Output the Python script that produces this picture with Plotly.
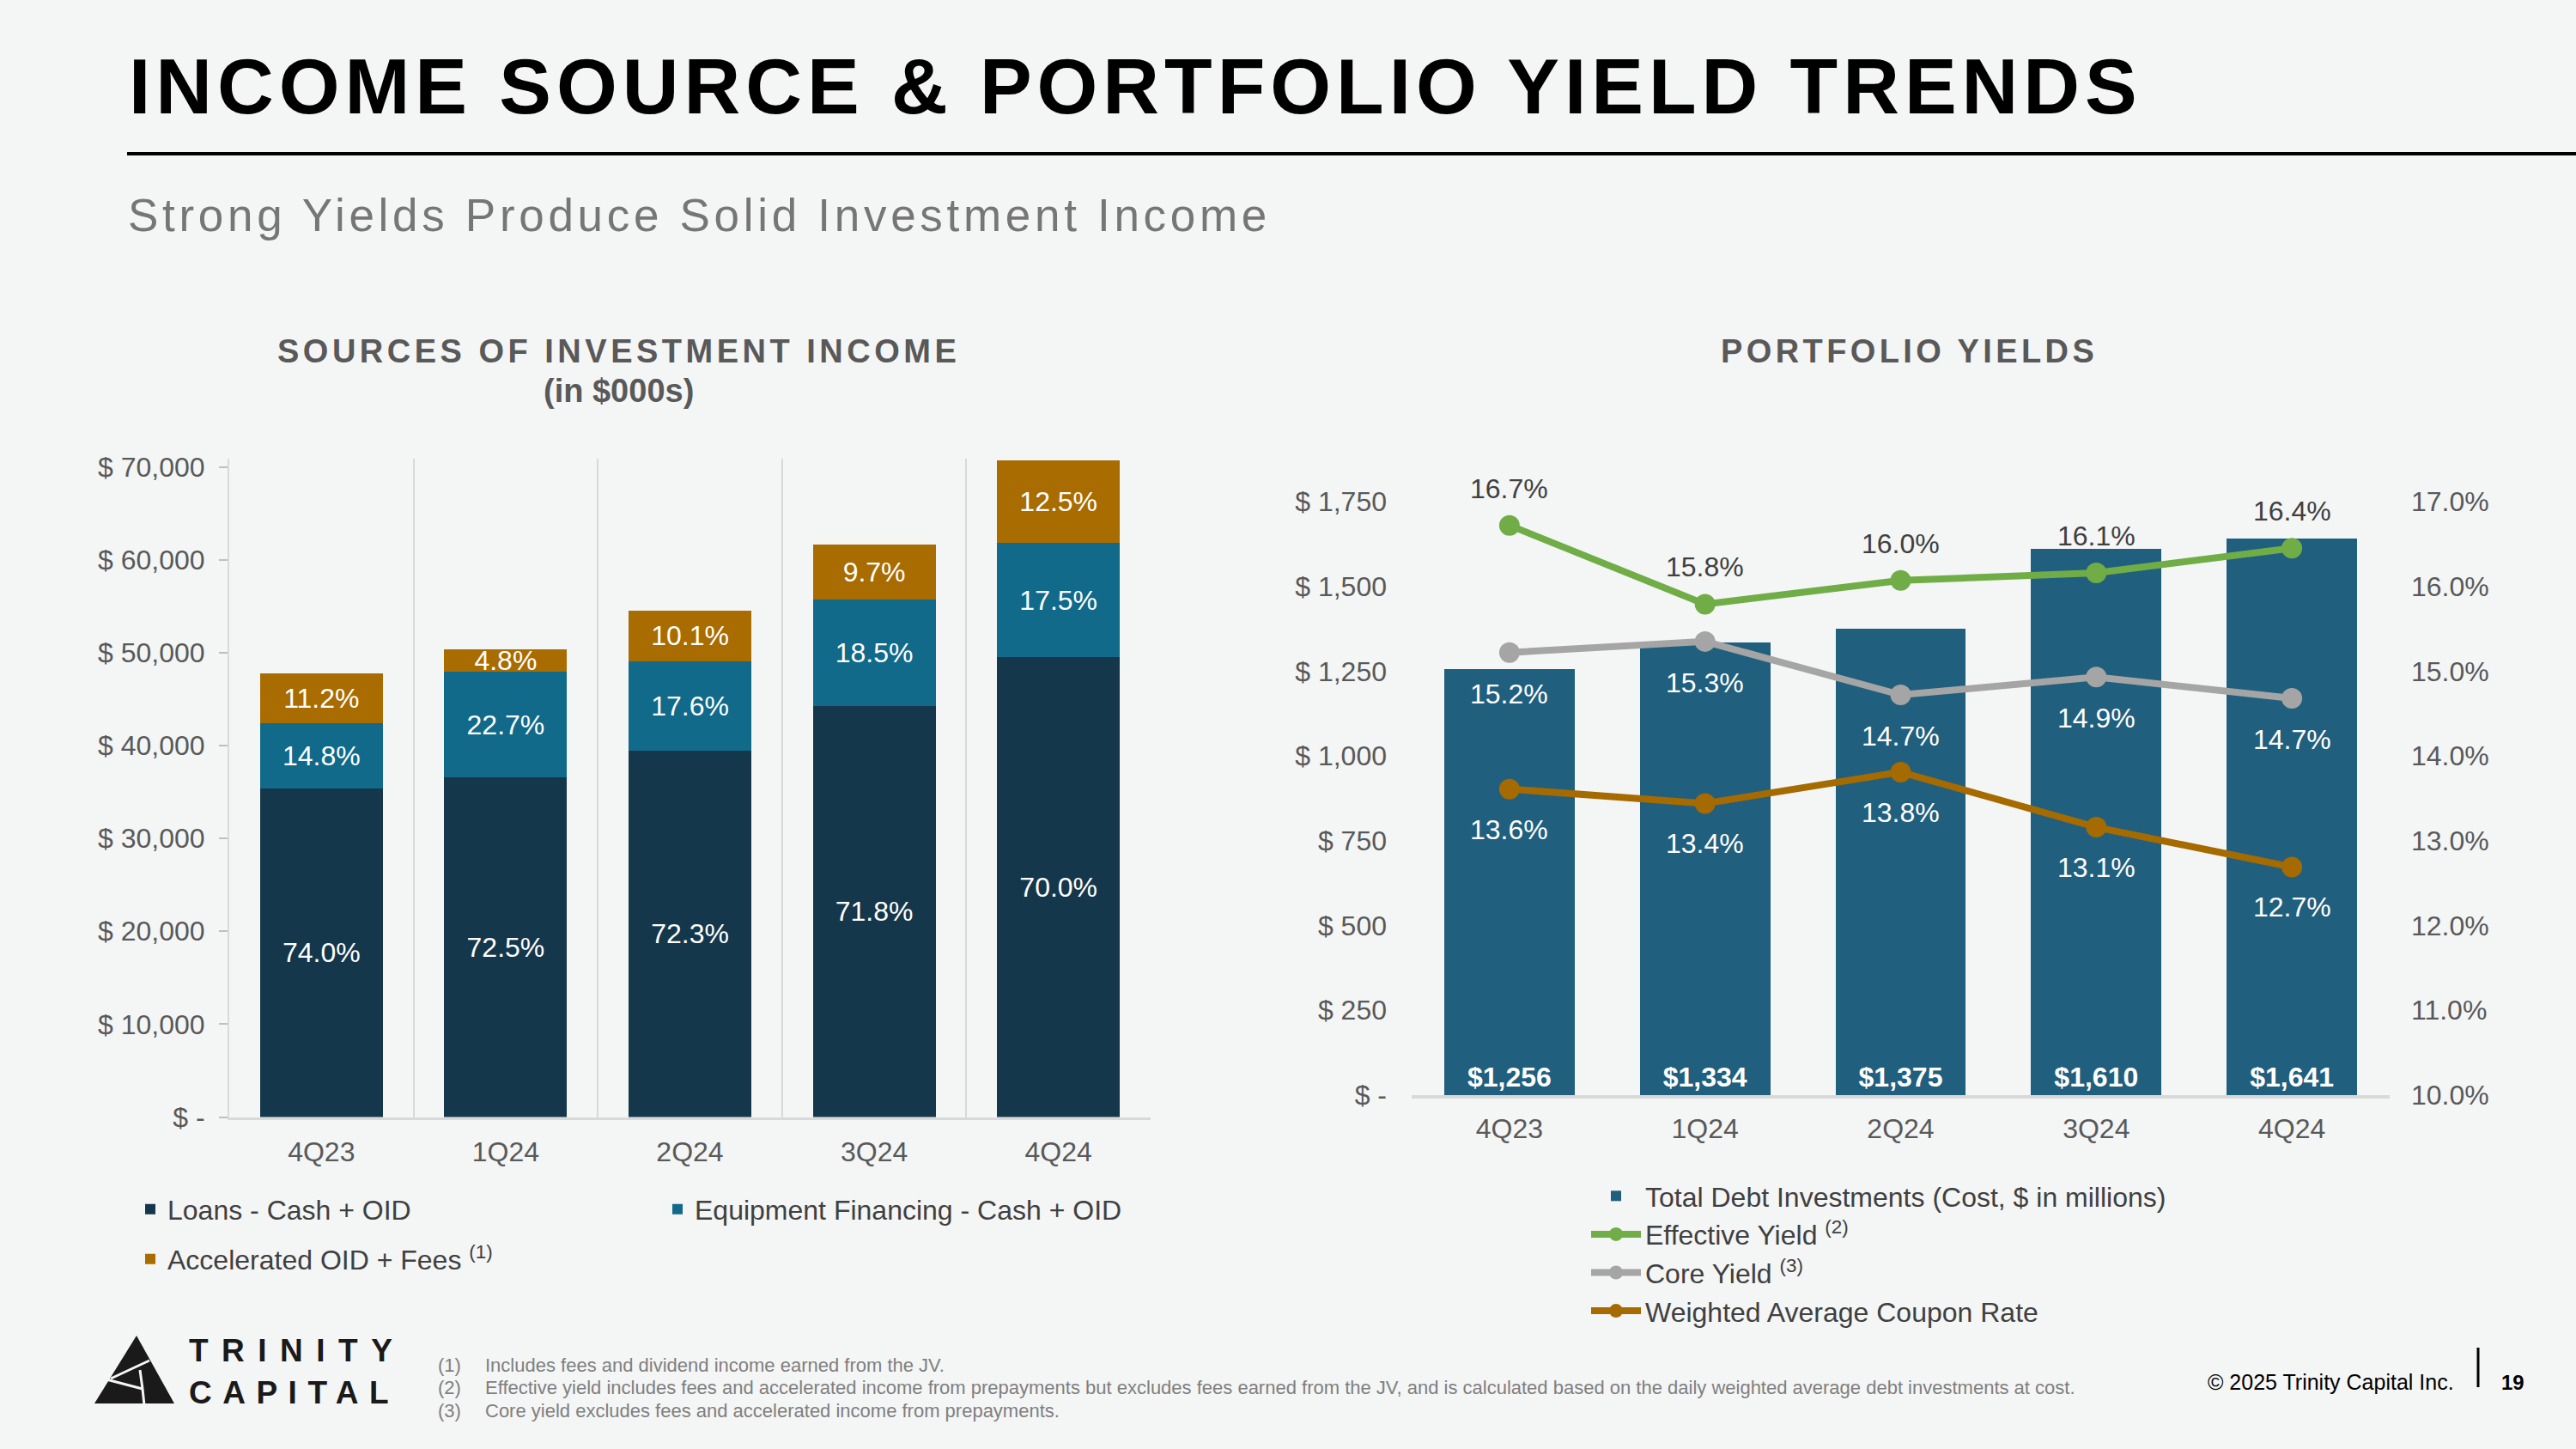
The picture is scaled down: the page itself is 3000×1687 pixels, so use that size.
import plotly.graph_objects as go

W, H = 3000, 1687

# ---------------- data ----------------
quarters = ["4Q23", "1Q24", "2Q24", "3Q24", "4Q24"]

# Sources of investment income ($000s)
loans = [35360, 36530, 39440, 44280, 49480]
equip = [7070, 11440, 9600, 11410, 12370]
fees = [5350, 2420, 5510, 5980, 8840]
loans_pct = ["74.0%", "72.5%", "72.3%", "71.8%", "70.0%"]
equip_pct = ["14.8%", "22.7%", "17.6%", "18.5%", "17.5%"]
fees_pct = ["11.2%", "4.8%", "10.1%", "9.7%", "12.5%"]
income_ticks = [0, 10000, 20000, 30000, 40000, 50000, 60000, 70000]
income_ticktext = ["$ -", "$ 10,000", "$ 20,000", "$ 30,000", "$ 40,000",
                   "$ 50,000", "$ 60,000", "$ 70,000"]

# Portfolio yields
debt = [1256, 1334, 1375, 1610, 1641]
debt_labels = ["$1,256", "$1,334", "$1,375", "$1,610", "$1,641"]
effective = [16.72, 15.79, 16.07, 16.16, 16.45]
effective_labels = ["16.7%", "15.8%", "16.0%", "16.1%", "16.4%"]
core = [15.22, 15.35, 14.72, 14.93, 14.68]
core_labels = ["15.2%", "15.3%", "14.7%", "14.9%", "14.7%"]
coupon = [13.61, 13.44, 13.81, 13.16, 12.69]
coupon_labels = ["13.6%", "13.4%", "13.8%", "13.1%", "12.7%"]
debt_ticks = [0, 250, 500, 750, 1000, 1250, 1500, 1750]
debt_ticktext = ["$ -", "$ 250", "$ 500", "$ 750", "$ 1,000", "$ 1,250", "$ 1,500", "$ 1,750"]
yield_ticks = [10, 11, 12, 13, 14, 15, 16, 17]
yield_ticktext = ["10.0%", "11.0%", "12.0%", "13.0%", "14.0%", "15.0%", "16.0%", "17.0%"]

footnotes = [
    ("(1)", "Includes fees and dividend income earned from the JV."),
    ("(2)", "Effective yield includes fees and accelerated income from prepayments but excludes fees earned from the JV, and is calculated based on the daily weighted average debt investments at cost."),
    ("(3)", "Core yield excludes fees and accelerated income from prepayments."),
]

# ---------------- styles ----------------
FONT = "Liberation Sans, Arial, Helvetica, sans-serif"
C_LOANS = "#15374B"
C_EQUIP = "#116A8A"
C_FEES = "#A86C00"
C_DEBT = "#215F7E"
C_EFF = "#70AD47"
C_CORE = "#A5A5A5"
C_COUP = "#A56A00"
GRAY_TXT = "#595959"
BG = "#F4F5F5"


def px(x):
    return x / W


def py(y):
    return 1 - y / H


fig = go.Figure()

# ---- left chart: stacked bars ----
for name, vals, labels, color, leg in [
    ("Loans - Cash + OID", loans, loans_pct, C_LOANS, "legend"),
    ("Equipment Financing - Cash + OID", equip, equip_pct, C_EQUIP, "legend"),
    ("Accelerated OID + Fees <sup>(1)</sup>", fees, fees_pct, C_FEES, "legend3"),
]:
    fig.add_trace(go.Bar(
        x=quarters, y=vals, name=name, marker=dict(color=color, line=dict(width=0)),
        text=labels, textposition="inside", insidetextanchor="middle",
        constraintext="none", textangle=0,
        textfont=dict(family=FONT, size=32, color="white"),
        xaxis="x", yaxis="y", legend=leg, hoverinfo="skip",
    ))

# ---- right chart: bars + lines ----
fig.add_trace(go.Bar(
    x=quarters, y=debt, name="Total Debt Investments (Cost, $ in millions)",
    marker=dict(color=C_DEBT, line=dict(width=0)),
    text=debt_labels, textposition="inside", insidetextanchor="start",
    constraintext="none", textangle=0,
    textfont=dict(family=FONT, size=32, color="white", weight=700),
    xaxis="x2", yaxis="y2", legend="legend2", legendgroup="a", hoverinfo="skip",
))
for name, vals, color, grp in [
    ("Effective Yield <sup>(2)</sup>", effective, C_EFF, "b"),
    ("Core Yield <sup>(3)</sup>", core, C_CORE, "c"),
    ("Weighted Average Coupon Rate", coupon, C_COUP, "d"),
]:
    fig.add_trace(go.Scatter(
        x=quarters, y=vals, name=name, mode="lines+markers",
        line=dict(color=color, width=8), marker=dict(color=color, size=24),
        xaxis="x2", yaxis="y3", legend="legend2", legendgroup=grp,
        cliponaxis=False, hoverinfo="skip",
    ))

annotations = []

# line data labels
for vals, labels, shift, col in [
    (effective, effective_labels, 43, "#404040"),
    (core, core_labels, -48, "white"),
    (coupon, coupon_labels, -47, "white"),
]:
    for q, v, t in zip(quarters, vals, labels):
        annotations.append(dict(
            x=q, y=v, xref="x2", yref="y3", text=t, showarrow=False,
            yshift=shift, font=dict(family=FONT, size=32, color=col),
        ))


def ls(text, sp):
    return f'<span style="letter-spacing:{sp}px">{text}</span>'


# page title & subtitle
annotations += [
    dict(x=px(148), y=py(100), xref="paper", yref="paper", xanchor="left", yanchor="middle",
         text="<b>" + ls("INCOME SOURCE &amp; PORTFOLIO YIELD TRENDS", 6.0) + "</b>", showarrow=False,
         font=dict(family=FONT, size=91, color="#000000")),
    dict(x=px(147), y=py(250), xref="paper", yref="paper", xanchor="left", yanchor="middle",
         text=ls("Strong Yields Produce Solid Investment Income", 4.7), showarrow=False,
         font=dict(family=FONT, size=53, color="#767676")),
    dict(x=px(720), y=py(409), xref="paper", yref="paper", xanchor="center", yanchor="middle",
         text="<b>" + ls("SOURCES OF INVESTMENT INCOME", 4.5) + "</b>", showarrow=False,
         font=dict(family=FONT, size=38, color=GRAY_TXT)),
    dict(x=px(720), y=py(455), xref="paper", yref="paper", xanchor="center", yanchor="middle",
         text="<b>(in $000s)</b>", showarrow=False,
         font=dict(family=FONT, size=38, color=GRAY_TXT)),
    dict(x=px(2223), y=py(409), xref="paper", yref="paper", xanchor="center", yanchor="middle",
         text="<b>" + ls("PORTFOLIO YIELDS", 4.4) + "</b>", showarrow=False,
         font=dict(family=FONT, size=38, color=GRAY_TXT)),
]

# footnotes
for i, (num, txt) in enumerate(footnotes):
    yy = 1589 + i * 26.5
    annotations.append(dict(x=px(508), y=py(yy), xref="paper", yref="paper", xanchor="left",
                            yanchor="middle", text=num, showarrow=False,
                            font=dict(family=FONT, size=22, color="#7F7F7F")))
    annotations.append(dict(x=px(563), y=py(yy), xref="paper", yref="paper", xanchor="left",
                            yanchor="middle", text=txt, showarrow=False,
                            font=dict(family=FONT, size=22, color="#7F7F7F")))

# copyright + page number
annotations += [
    dict(x=px(2860), y=py(1609), xref="paper", yref="paper", xanchor="right", yanchor="middle",
         text="© 2025 Trinity Capital Inc.", showarrow=False,
         font=dict(family=FONT, size=25, color="#000000")),
    dict(x=px(2926), y=py(1609), xref="paper", yref="paper", xanchor="center", yanchor="middle",
         text="<b>19</b>", showarrow=False,
         font=dict(family=FONT, size=24, color="#000000")),
]

# logo text
annotations += [
    dict(x=px(218), y=py(1572), xref="paper", yref="paper", xanchor="left", yanchor="middle",
         text="<b>" + ls("TRINITY", 15.5) + "</b>", showarrow=False,
         font=dict(family=FONT, size=37, color="#1A1A1A")),
    dict(x=px(218), y=py(1621), xref="paper", yref="paper", xanchor="left", yanchor="middle",
         text="<b>" + ls("CAPITAL", 12.5) + "</b>", showarrow=False,
         font=dict(family=FONT, size=37, color="#1A1A1A")),
]


def path_px(points):
    s = "M " + " L ".join(f"{px(x):.5f},{py(y):.5f}" for x, y in points) + " Z"
    return s


shapes = [
    # title rule
    dict(type="line", xref="paper", yref="paper", x0=px(148), x1=1.0, y0=py(179), y1=py(179),
         line=dict(color="#000000", width=4)),
    # page-number separator
    dict(type="line", xref="paper", yref="paper", x0=px(2886), x1=px(2886), y0=py(1569), y1=py(1615),
         line=dict(color="#000000", width=3)),
    # logo triangle
    dict(type="path", xref="paper", yref="paper",
         path=path_px([(159, 1555), (110, 1634), (203, 1634)]),
         fillcolor="#1A1A1A", line=dict(width=0)),
    dict(type="line", xref="paper", yref="paper", x0=px(174), y0=py(1584), x1=px(129), y1=py(1605),
         line=dict(color=BG, width=3)),
    dict(type="line", xref="paper", yref="paper", x0=px(124), y0=py(1606), x1=px(166), y1=py(1617),
         line=dict(color=BG, width=3)),
    dict(type="line", xref="paper", yref="paper", x0=px(166), y0=py(1617), x1=px(168), y1=py(1636),
         line=dict(color=BG, width=3)),
    dict(type="line", xref="paper", yref="paper", x0=px(163), y0=py(1595), x1=px(166), y1=py(1617),
         line=dict(color=BG, width=3)),
]

axis_font = dict(family=FONT, size=32, color=GRAY_TXT)

fig.update_layout(
    width=W, height=H,
    margin=dict(l=0, r=0, t=0, b=0, autoexpand=False),
    paper_bgcolor=BG, plot_bgcolor="rgba(0,0,0,0)",
    barmode="stack", bargap=0.333,
    font=dict(family=FONT, color=GRAY_TXT),
    showlegend=True,
    xaxis=dict(domain=[px(267), px(1340)], anchor="y", type="category",
               tickson="boundaries", showgrid=True, gridcolor="#D9D9D9", gridwidth=2,
               showline=True, linecolor="#D9D9D9", linewidth=3, ticks="",
               tickfont=axis_font, ticklabelstandoff=10, fixedrange=True),
    yaxis=dict(domain=[py(1300.5), py(533.8)], anchor="x", range=[0, 70900],
               tickvals=income_ticks, ticktext=income_ticktext,
               ticks="outside", ticklen=10, tickcolor="#BFBFBF", tickwidth=2,
               showgrid=False, zeroline=False, showline=True, linecolor="#D9D9D9", linewidth=2,
               tickfont=axis_font, ticklabelstandoff=10),
    xaxis2=dict(domain=[px(1644), px(2783)], anchor="y2", type="category",
                showgrid=False, showline=True, linecolor="#D9D9D9", linewidth=4, ticks="",
                tickfont=axis_font, ticklabelstandoff=8),
    yaxis2=dict(domain=[py(1275), py(584)], anchor="x2", range=[0, 1750],
                tickvals=debt_ticks, ticktext=debt_ticktext, showgrid=False, zeroline=False,
                showline=False, ticks="", tickfont=axis_font, ticklabelstandoff=28),
    yaxis3=dict(overlaying="y2", anchor="x2", side="right", range=[10, 17],
                tickvals=yield_ticks, ticktext=yield_ticktext, showgrid=False, zeroline=False,
                showline=False, ticks="", tickfont=axis_font, ticklabelstandoff=24),
    legend=dict(orientation="h", x=px(155), y=py(1408), xanchor="left", yanchor="middle",
                entrywidth=569, entrywidthmode="pixels", bgcolor="rgba(0,0,0,0)",
                font=dict(family=FONT, size=32, color="#404040"), traceorder="normal"),
    legend3=dict(orientation="h", x=px(155), y=py(1466), xanchor="left", yanchor="middle",
                 bgcolor="rgba(0,0,0,0)", font=dict(family=FONT, size=32, color="#404040")),
    legend2=dict(orientation="v", x=px(1848), y=py(1365), xanchor="left", yanchor="top",
                 bgcolor="rgba(0,0,0,0)", tracegroupgap=0, itemwidth=58,
                 font=dict(family=FONT, size=32, color="#404040"), traceorder="grouped"),
    annotations=annotations,
    shapes=shapes,
)

post = ("document.documentElement.style.margin='0';document.body.style.margin='0';"
        "document.body.style.padding='0';document.body.style.background='" + BG + "';"
        "document.body.style.overflow='hidden';")
fig.write_html("out.html", post_script=post, config={"displayModeBar": False})
